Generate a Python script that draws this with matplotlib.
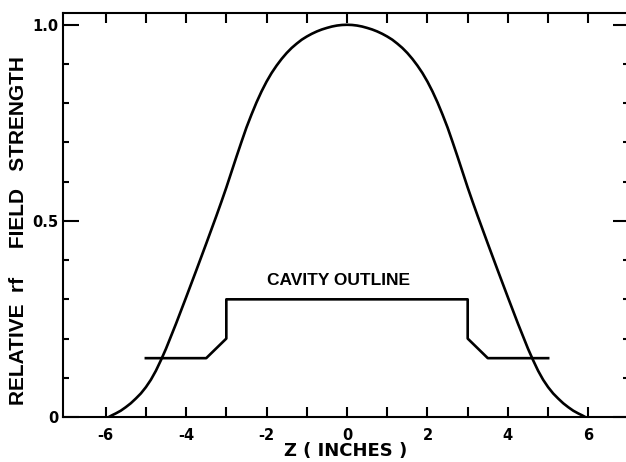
import matplotlib
matplotlib.use('Agg')
import matplotlib.pyplot as plt
from matplotlib.ticker import FixedLocator, FixedFormatter

# ---- data (right half; the curve is symmetric about z = 0) ----
z_half = [0.0, 0.125, 0.25, 0.375, 0.5, 0.625, 0.75, 0.875, 1.0, 1.125, 1.25, 1.375,
          1.5, 1.625, 1.75, 1.875, 2.0, 2.125, 2.25, 2.375, 2.5, 2.625, 2.75, 2.875,
          3.0, 3.125, 3.25, 3.5, 3.75, 4.0, 4.25, 4.5, 4.625, 4.75, 4.875, 5.0,
          5.125, 5.25, 5.375, 5.5, 5.625, 5.75, 5.85, 5.92]
field_half = [1.000, 0.9995, 0.998, 0.9955, 0.992, 0.988, 0.983, 0.977, 0.970, 0.962, 0.952, 0.941,
              0.928, 0.913, 0.896, 0.877, 0.855, 0.830, 0.802, 0.771, 0.738, 0.701, 0.663, 0.624,
              0.585, 0.548, 0.512, 0.442, 0.373, 0.305, 0.238, 0.174, 0.145, 0.118, 0.095, 0.076,
              0.060, 0.047, 0.035, 0.025, 0.016, 0.009, 0.004, 0.0]
z_field = [-z for z in reversed(z_half)] + z_half[1:]
field = list(reversed(field_half)) + field_half[1:]

cavity_z = [-5.0, -3.5, -3.0, -3.0, 3.0, 3.0, 3.5, 5.0]
cavity_h = [0.15, 0.15, 0.20, 0.30, 0.30, 0.20, 0.15, 0.15]

x_ticks = [-6, -5, -4, -3, -2, -1, 0, 1, 2, 3, 4, 5, 6]
x_tick_labels = ['-6', '', '-4', '', '-2', '', '0', '', '2', '', '4', '', '6']
y_ticks = [0.0, 0.5, 1.0]
y_tick_labels = ['0', '0.5', '1.0']
y_minor = [0.1, 0.2, 0.3, 0.4, 0.6, 0.7, 0.8, 0.9]

plt.rcParams['font.family'] = ['DejaVu Sans']
plt.rcParams['axes.unicode_minus'] = False

W, H = 626, 462
fig = plt.figure(figsize=(W / 100, H / 100), dpi=100)
ax = fig.add_axes([63 / W, 45 / H, 566 / W, 404 / H])

ax.plot(z_field, field, color='black', lw=1.9, solid_joinstyle='round')
ax.plot(cavity_z, cavity_h, color='black', lw=1.9)

ax.set_xlim(-7.06, 7.01)
ax.set_ylim(0, 1.03)

ax.xaxis.set_major_locator(FixedLocator(x_ticks))
ax.xaxis.set_major_formatter(FixedFormatter(x_tick_labels))
ax.yaxis.set_major_locator(FixedLocator(y_ticks))
ax.yaxis.set_major_formatter(FixedFormatter(y_tick_labels))
ax.yaxis.set_minor_locator(FixedLocator(y_minor))

ax.tick_params(axis='x', which='major', direction='in', top=True, bottom=True,
               length=7, width=1.5, labelsize=10.5, pad=8)
ax.tick_params(axis='y', which='major', direction='in', left=True, right=True,
               length=11.5, width=1.5, labelsize=10.5, pad=3)
ax.tick_params(axis='y', which='minor', direction='in', left=True, right=True,
               length=4.5, width=1.5)
for lab in ax.get_xticklabels() + ax.get_yticklabels():
    lab.set_fontweight('bold')

for s in ax.spines.values():
    s.set_linewidth(1.5)

lib = ['Liberation Sans', 'DejaVu Sans']
ax.text(-0.2, 0.348, 'CAVITY OUTLINE', ha='center', va='center', fontsize=12.5,
        family=lib, fontweight='bold')

fig.text(19 / W, 1 - 231 / H, 'RELATIVE  rf     FIELD   STRENGTH', rotation=90,
         ha='center', va='center', fontsize=15, family=lib, fontweight='bold')
fig.text(346 / W, 1 - 451 / H, 'Z ( INCHES )', ha='center', va='center', fontsize=13,
         fontweight='bold')

fig.savefig('out.png', dpi=100)
